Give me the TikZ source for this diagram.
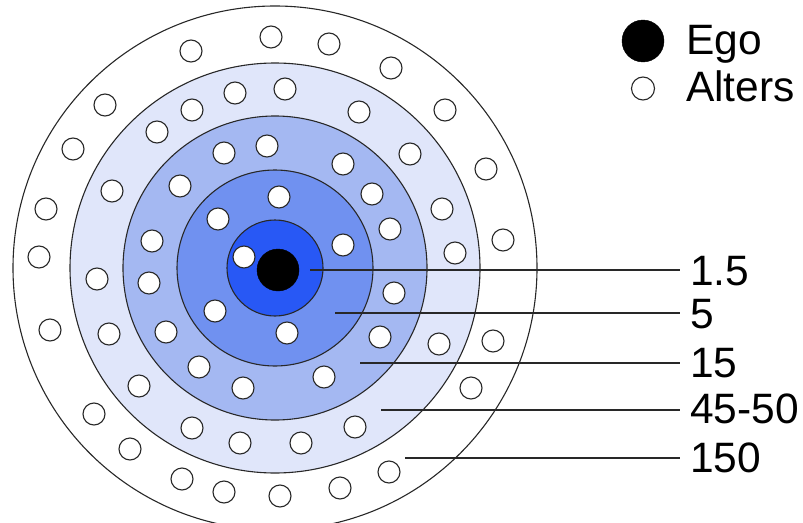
\documentclass[tikz,border=0pt]{standalone}
\usepackage{fontspec}
\setmainfont{Liberation Sans}
\definecolor{ringA}{RGB}{40,88,245}
\definecolor{ringB}{RGB}{112,145,240}
\definecolor{ringC}{RGB}{164,184,242}
\definecolor{ringD}{RGB}{224,230,250}
\definecolor{edge}{RGB}{40,40,40}
\begin{document}
\begin{tikzpicture}[x=1pt,y=-1pt,
  ring/.style={draw=edge,line width=1.1pt},
  alter/.style={circle,draw=edge,fill=white,line width=1.1pt,minimum size=22pt,inner sep=0pt},
  egonode/.style={circle,fill=black,draw=black,minimum size=42pt,inner sep=0pt},
  lbl/.style={anchor=base west,inner sep=0pt,font=\fontsize{42.5}{42.5}\selectfont},
  leader/.style={draw=edge,line width=1.3pt}]
\useasboundingbox (0,0) rectangle (803,522);
\clip (0,0) rectangle (803,522);
% rings
\coordinate (c) at (275,268);
\path[ring,fill=white] (c) circle (262);
\path[ring,fill=ringD] (c) circle (205);
\path[ring,fill=ringC] (c) circle (152);
\path[ring,fill=ringB] (c) circle (98);
\path[ring,fill=ringA] (c) circle (48);
% ego
\node[egonode] (ego) at (278,270) {};
% inner alter
\node[alter] (a1) at (244,257) {};
% ring 5
\foreach \n/\x/\y in {b1/279/197,b2/218/219,b3/343/245,b4/215/311,b5/287/333}
  \node[alter] (\n) at (\x,\y) {};
% ring 15
\foreach \n/\x/\y in {c1/224/153,c2/267/146,c3/343/164,c4/180/186,c5/372/194,c6/390/229,c7/152/241,c8/149/283,c9/394/293,c10/166/332,c11/380/337,c12/199/367,c13/243/388,c14/324/377}
  \node[alter] (\n) at (\x,\y) {};
% ring 45-50
\foreach \n/\x/\y in {d1/235/93,d2/285/89,d3/192/110,d4/157/132,d5/359/112,d6/410/154,d7/112/191,d8/442/209,d9/455/253,d10/97/279,d11/109/334,d12/439/344,d13/139/386,d14/192/428,d15/240/443,d16/301/443,d17/355/427}
  \node[alter] (\n) at (\x,\y) {};
% ring 150
\foreach \n/\x/\y in {e1/271/37,e2/329/44,e3/191/51,e4/391/68,e5/105/105,e6/445/110,e7/73/149,e8/486/169,e9/46/209,e10/503/240,e11/39/257,e12/50/330,e13/493/341,e14/471/388,e15/94/414,e16/130/449,e17/182/479,e18/224/492,e19/280/496,e20/340/488,e21/389/472}
  \node[alter] (\n) at (\x,\y) {};
% legend
\node[egonode] (legego) at (643,41) {};
\node[lbl] (tego) at (686,54) {Ego};
\node[alter,minimum size=23pt] (legalt) at (643,88.5) {};
\node[lbl] (talt) at (686,101) {Alters};
% leader lines and labels
\foreach \n/\xs/\y/\b/\t in {p1/310/270/285/1.5,p2/335/313/328.5/5,p3/360/363/377.5/15,p4/381/410/423.5/45-50,p5/405/458/472.5/150}{
  \coordinate (\n s) at (\xs,\y);
  \coordinate (\n e) at (680,\y);
  \node[lbl] (\n l) at (690,\b) {\t};
  \draw[leader] (\n s) -- (\n e);
}
\end{tikzpicture}
\end{document}
